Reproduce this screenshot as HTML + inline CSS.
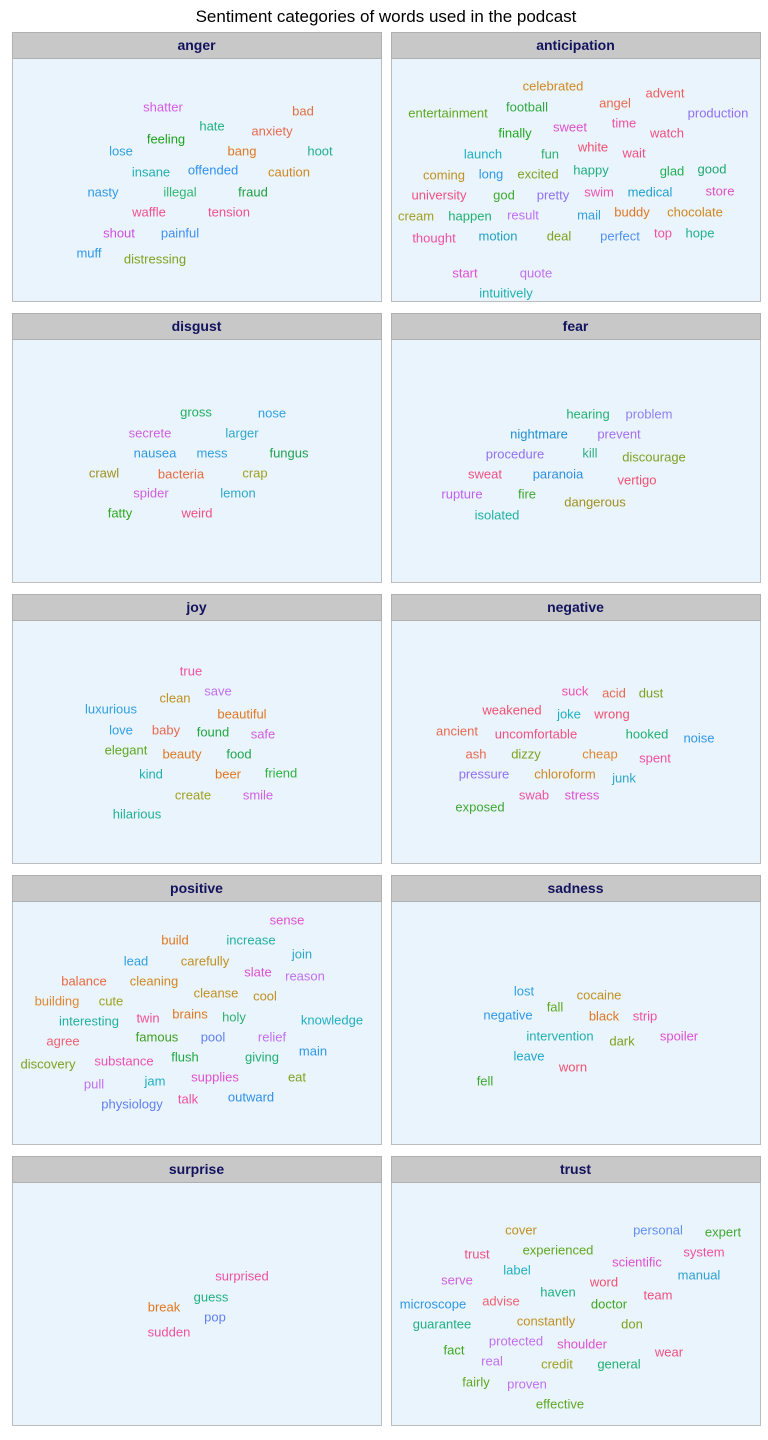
<!DOCTYPE html>
<html><head><meta charset="utf-8"><style>
body{margin:0;background:#fff;width:768px;height:1440px;overflow:hidden}
svg{display:block;font-family:"Liberation Sans",Arial,sans-serif}
</style></head><body>
<svg id="chart" width="768" height="1440" viewBox="0 0 768 1440">
<text x="386" y="22" text-anchor="middle" font-size="17" fill="#000">Sentiment categories of words used in the podcast</text>
<g id="panels"></g>
</svg>
<script>
const categories=["anger","anticipation","disgust","fear","joy","negative","positive","sadness","surprise","trust"];
const words={
anger:[["shatter",163,107,"#d65ce8"],["bad",303,111,"#e07040"],["hate",212,126,"#20b080"],["anxiety",272,131,"#e86a50"],["feeling",166,139,"#20a020"],["lose",121,151,"#30a0e0"],["bang",242,151,"#e07820"],["hoot",320,151,"#20b090"],["insane",151,172,"#20b0b0"],["offended",213,170,"#3090f0"],["caution",289,172,"#d08820"],["nasty",103,192,"#3098e8"],["illegal",180,192,"#30b870"],["fraud",253,192,"#20a040"],["waffle",149,212,"#f0508a"],["tension",229,212,"#f0508a"],["shout",119,233,"#d050e0"],["painful",180,233,"#4090f0"],["muff",89,253,"#3098e8"],["distressing",155,259,"#80a020"]],
anticipation:[["celebrated",553,86,"#d08820"],["advent",665,93,"#f06060"],["football",527,107,"#30a840"],["angel",615,103,"#e86a50"],["production",718,113,"#9070f0"],["entertainment",448,113,"#60a820"],["time",624,123,"#f050a0"],["sweet",570,127,"#e050d0"],["watch",667,133,"#f05080"],["finally",515,133,"#20a820"],["white",593,147,"#f05070"],["launch",483,154,"#20b0c0"],["fun",550,154,"#30b070"],["wait",634,153,"#f05080"],["happy",591,170,"#20b080"],["glad",672,171,"#20b050"],["good",712,169,"#20a870"],["coming",444,175,"#c09020"],["long",491,174,"#3098e8"],["excited",538,174,"#80a020"],["university",439,195,"#f05080"],["god",504,195,"#40a830"],["pretty",553,195,"#9070f0"],["swim",599,192,"#f050b0"],["medical",650,192,"#20a0d0"],["store",720,191,"#e050c0"],["cream",416,216,"#a0a020"],["happen",470,216,"#20b070"],["result",523,215,"#c070f0"],["mail",589,215,"#30a0e0"],["buddy",632,212,"#e07820"],["chocolate",695,212,"#d08820"],["thought",434,238,"#f050a0"],["motion",498,236,"#20a0c0"],["deal",559,236,"#80a020"],["perfect",620,236,"#5090f0"],["top",663,233,"#f050a0"],["hope",700,233,"#20b090"],["start",465,273,"#e050d0"],["quote",536,273,"#c070f0"],["intuitively",506,293,"#20b0b0"]],
disgust:[["gross",196,412,"#20b060"],["nose",272,413,"#30a0e8"],["secrete",150,433,"#d060e0"],["larger",242,433,"#30a8c8"],["nausea",155,453,"#3098e0"],["mess",212,453,"#30a0e0"],["fungus",289,453,"#20a050"],["crawl",104,473,"#a09020"],["bacteria",181,474,"#e86a40"],["crap",255,473,"#a0a020"],["spider",151,493,"#d060e0"],["lemon",238,493,"#30a8c8"],["fatty",120,513,"#30a820"],["weird",197,513,"#f05080"]],
fear:[["hearing",588,414,"#20b070"],["problem",649,414,"#9080f0"],["nightmare",539,434,"#2090d0"],["prevent",619,434,"#a070f0"],["kill",590,453,"#30b080"],["procedure",515,454,"#9070f0"],["discourage",654,457,"#80a020"],["sweat",485,474,"#f05080"],["paranoia",558,474,"#3090e0"],["vertigo",637,480,"#f05070"],["rupture",462,494,"#c060f0"],["fire",527,494,"#40a830"],["dangerous",595,502,"#a09020"],["isolated",497,515,"#20b0a0"]],
joy:[["true",191,671,"#f050a0"],["clean",175,698,"#c09020"],["save",218,691,"#c070f0"],["luxurious",111,709,"#30a0e0"],["beautiful",242,714,"#e07820"],["love",121,730,"#30a0e0"],["baby",166,730,"#e86a50"],["found",213,732,"#20a840"],["safe",263,734,"#d060e0"],["elegant",126,750,"#60a820"],["beauty",182,754,"#e07820"],["food",239,754,"#20a850"],["kind",151,774,"#20b0b0"],["beer",228,774,"#e07820"],["friend",281,773,"#30b040"],["create",193,795,"#a0a020"],["smile",258,795,"#d060e0"],["hilarious",137,814,"#20b090"]],
negative:[["suck",575,691,"#f050b0"],["acid",614,693,"#e86a50"],["dust",651,693,"#80a020"],["weakened",512,710,"#f05070"],["joke",569,714,"#20b0c0"],["wrong",612,714,"#f05070"],["ancient",457,731,"#e86a50"],["uncomfortable",536,734,"#f05080"],["hooked",647,734,"#20b070"],["noise",699,738,"#3098e8"],["ash",476,754,"#e86a50"],["dizzy",526,754,"#80a020"],["cheap",600,754,"#e08830"],["spent",655,758,"#f050a0"],["pressure",484,774,"#9070f0"],["chloroform",565,774,"#d08820"],["junk",624,778,"#30a8c8"],["swab",534,795,"#f050a0"],["stress",582,795,"#e050d0"],["exposed",480,807,"#40a830"]],
positive:[["sense",287,920,"#e050d0"],["build",175,940,"#e07820"],["increase",251,940,"#20b0a0"],["join",302,954,"#30a8c8"],["lead",136,961,"#30a0e0"],["carefully",205,961,"#c09020"],["slate",258,972,"#e050d0"],["reason",305,976,"#c070f0"],["balance",84,981,"#e86a40"],["cleaning",154,981,"#d08820"],["cleanse",216,993,"#c09020"],["cool",265,996,"#c09020"],["building",57,1001,"#e08830"],["cute",111,1001,"#a0a020"],["brains",190,1014,"#e07820"],["holy",234,1017,"#30b070"],["knowledge",332,1020,"#20b0c0"],["interesting",89,1021,"#20b0a0"],["twin",148,1018,"#f05090"],["famous",157,1037,"#40a020"],["pool",213,1037,"#6080f0"],["relief",272,1037,"#c070f0"],["agree",63,1041,"#f06070"],["main",313,1051,"#3098e8"],["flush",185,1057,"#20a840"],["giving",262,1057,"#20b070"],["discovery",48,1064,"#80a020"],["substance",124,1061,"#f050b0"],["supplies",215,1077,"#e050d0"],["jam",155,1081,"#20b0c0"],["eat",297,1077,"#80a020"],["pull",94,1084,"#c070f0"],["talk",188,1099,"#f050a0"],["outward",251,1097,"#3090e8"],["physiology",132,1104,"#6080f0"]],
sadness:[["lost",524,991,"#30a0e0"],["cocaine",599,995,"#c09020"],["fall",555,1007,"#60a820"],["negative",508,1015,"#3098e8"],["black",604,1016,"#e07820"],["strip",645,1016,"#f050a0"],["intervention",560,1036,"#20b0b0"],["spoiler",679,1036,"#e050d0"],["dark",622,1041,"#80a020"],["leave",529,1056,"#20a8c8"],["worn",573,1067,"#f05070"],["fell",485,1081,"#40a830"]],
surprise:[["surprised",242,1276,"#f050a0"],["guess",211,1297,"#20b080"],["break",164,1307,"#e07820"],["pop",215,1317,"#6080f0"],["sudden",169,1332,"#f050a0"]],
trust:[["cover",521,1230,"#c09020"],["personal",658,1230,"#6090f0"],["expert",723,1232,"#40a830"],["trust",477,1254,"#f05080"],["experienced",558,1250,"#60a820"],["scientific",637,1262,"#e050d0"],["system",704,1252,"#f050a0"],["label",517,1270,"#20b0c0"],["manual",699,1275,"#30a0d0"],["serve",457,1280,"#d060e0"],["word",604,1282,"#f05070"],["haven",558,1292,"#20b080"],["team",658,1295,"#f05080"],["microscope",433,1304,"#3098e0"],["advise",501,1301,"#f06070"],["doctor",609,1304,"#40a820"],["guarantee",442,1324,"#20b080"],["constantly",546,1321,"#c09020"],["don",632,1324,"#80a020"],["protected",516,1341,"#c070f0"],["shoulder",582,1344,"#e050d0"],["fact",454,1350,"#40a820"],["real",492,1361,"#c070f0"],["credit",557,1364,"#a0a020"],["general",619,1364,"#20b070"],["wear",669,1352,"#f05080"],["fairly",476,1382,"#60a820"],["proven",527,1384,"#c070f0"],["effective",560,1404,"#60a820"]]
};
const NS="http://www.w3.org/2000/svg";
const g=document.getElementById("panels");
function mk(tag,attrs){const e=document.createElementNS(NS,tag);for(const k in attrs)e.setAttribute(k,attrs[k]);return e;}
categories.forEach((c,i)=>{
  const col=i%2,row=Math.floor(i/2);
  const x=col?391:12,y=32+row*281,w=369;
  const pg=mk("g",{});
  
  
  const body=mk("rect",{x:x+0.5,y:y+26.5,width:w,height:243,fill:"#eaf4fd",stroke:"#bdbdbd"});
  
  
  pg.appendChild(body);
  const hd=mk("rect",{x:x+0.5,y:y+0.5,width:w,height:26,fill:"#c8c8c8",stroke:"#b0b0b0"});
  
  
  pg.appendChild(hd);
  const t=mk("text",{x:x+w/2,y:y+18,"text-anchor":"middle","font-size":"14","font-weight":"bold",fill:"#12125e"});
  t.textContent=c;
  
  
  pg.appendChild(t);
  words[c].forEach(wd=>{
    const e=mk("text",{x:wd[1],y:wd[2]+4.5,"text-anchor":"middle","font-size":"13",fill:wd[3]});
    e.textContent=wd[0];
    
    
    pg.appendChild(e);
  });
  g.appendChild(pg);
});
</script>
</body></html>
